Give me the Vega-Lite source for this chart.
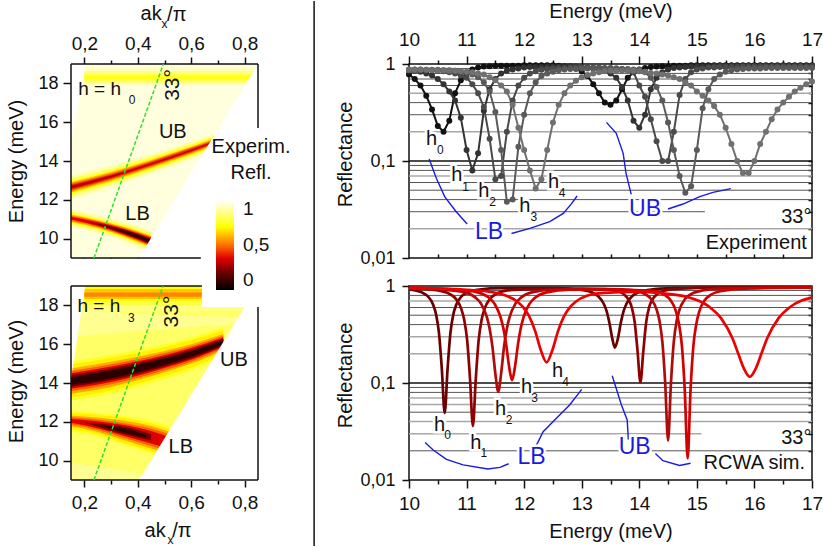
{"$schema":"https://vega.github.io/schema/vega-lite/v6.json","padding":0,"background":"white","bounds":"flush","columns":2,"spacing":{"row":28,"column":151},
"config":{"font":"Liberation Sans","view":{"stroke":null},"axis":{"grid":false,"domain":false,"zindex":1,"labelFontSize":18,"labelColor":"#111","labelOverlap":false,"labelFlush":false,"tickColor":"#111","tickWidth":1.5,"titleFontSize":20,"titleFontWeight":"normal","titleColor":"#111"}},
"datasets":{
"exp":[
{"e":10.0,"h0":0.78,"h1":0.85,"h2":0.87,"h3":0.88,"h4":0.87},{"e":10.1,"h0":0.70,"h1":0.85,"h2":0.87,"h3":0.88,"h4":0.87},{"e":10.2,"h0":0.60,"h1":0.83,"h2":0.87,"h3":0.88,"h4":0.87},{"e":10.3,"h0":0.47,"h1":0.80,"h2":0.86,"h3":0.87,"h4":0.87},{"e":10.4,"h0":0.34,"h1":0.76,"h2":0.86,"h3":0.87,"h4":0.86},{"e":10.5,"h0":0.23,"h1":0.70,"h2":0.85,"h3":0.87,"h4":0.86},{"e":10.6,"h0":0.20,"h1":0.62,"h2":0.84,"h3":0.86,"h4":0.86},{"e":10.7,"h0":0.26,"h1":0.52,"h2":0.82,"h3":0.86,"h4":0.85},{"e":10.8,"h0":0.50,"h1":0.42,"h2":0.80,"h3":0.85,"h4":0.85},{"e":10.9,"h0":0.68,"h1":0.28,"h2":0.76,"h3":0.84,"h4":0.84},
{"e":11.0,"h0":0.80,"h1":0.13,"h2":0.72,"h3":0.82,"h4":0.83},{"e":11.1,"h0":0.88,"h1":0.08,"h2":0.62,"h3":0.78,"h4":0.82},{"e":11.2,"h0":0.92,"h1":0.12,"h2":0.50,"h3":0.73,"h4":0.80},{"e":11.3,"h0":0.94,"h1":0.33,"h2":0.36,"h3":0.65,"h4":0.78},{"e":11.4,"h0":0.95,"h1":0.55,"h2":0.17,"h3":0.52,"h4":0.73},{"e":11.5,"h0":0.96,"h1":0.70,"h2":0.065,"h3":0.32,"h4":0.68},{"e":11.6,"h0":0.96,"h1":0.80,"h2":0.07,"h3":0.13,"h4":0.60},{"e":11.7,"h0":0.96,"h1":0.85,"h2":0.20,"h3":0.038,"h4":0.52},{"e":11.8,"h0":0.96,"h1":0.88,"h2":0.42,"h3":0.04,"h4":0.38},{"e":11.9,"h0":0.96,"h1":0.90,"h2":0.60,"h3":0.14,"h4":0.22},
{"e":12.0,"h0":0.97,"h1":0.92,"h2":0.72,"h3":0.30,"h4":0.13},{"e":12.1,"h0":0.97,"h1":0.93,"h2":0.80,"h3":0.50,"h4":0.08},{"e":12.2,"h0":0.97,"h1":0.93,"h2":0.84,"h3":0.65,"h4":0.052},{"e":12.3,"h0":0.97,"h1":0.93,"h2":0.87,"h3":0.75,"h4":0.065},{"e":12.4,"h0":0.97,"h1":0.94,"h2":0.89,"h3":0.80,"h4":0.13},{"e":12.5,"h0":0.97,"h1":0.94,"h2":0.90,"h3":0.83,"h4":0.25},{"e":12.6,"h0":0.96,"h1":0.94,"h2":0.91,"h3":0.86,"h4":0.38},{"e":12.7,"h0":0.95,"h1":0.94,"h2":0.91,"h3":0.88,"h4":0.50},{"e":12.8,"h0":0.94,"h1":0.94,"h2":0.92,"h3":0.89,"h4":0.60},{"e":12.9,"h0":0.90,"h1":0.94,"h2":0.92,"h3":0.89,"h4":0.67},
{"e":13.0,"h0":0.84,"h1":0.93,"h2":0.92,"h3":0.90,"h4":0.73},{"e":13.1,"h0":0.75,"h1":0.92,"h2":0.92,"h3":0.90,"h4":0.77},{"e":13.2,"h0":0.62,"h1":0.90,"h2":0.92,"h3":0.90,"h4":0.80},{"e":13.3,"h0":0.50,"h1":0.88,"h2":0.92,"h3":0.90,"h4":0.82},{"e":13.4,"h0":0.40,"h1":0.85,"h2":0.91,"h3":0.90,"h4":0.84},{"e":13.5,"h0":0.38,"h1":0.80,"h2":0.91,"h3":0.90,"h4":0.85},{"e":13.6,"h0":0.42,"h1":0.72,"h2":0.90,"h3":0.90,"h4":0.85},{"e":13.7,"h0":0.55,"h1":0.58,"h2":0.89,"h3":0.89,"h4":0.85},{"e":13.8,"h0":0.72,"h1":0.42,"h2":0.87,"h3":0.89,"h4":0.85},{"e":13.9,"h0":0.82,"h1":0.26,"h2":0.82,"h3":0.88,"h4":0.85},
{"e":14.0,"h0":0.88,"h1":0.22,"h2":0.60,"h3":0.87,"h4":0.84},{"e":14.1,"h0":0.91,"h1":0.30,"h2":0.46,"h3":0.82,"h4":0.83},{"e":14.2,"h0":0.93,"h1":0.55,"h2":0.27,"h3":0.72,"h4":0.81},{"e":14.3,"h0":0.94,"h1":0.72,"h2":0.16,"h3":0.58,"h4":0.80},{"e":14.4,"h0":0.95,"h1":0.82,"h2":0.10,"h3":0.42,"h4":0.78},{"e":14.5,"h0":0.95,"h1":0.88,"h2":0.10,"h3":0.25,"h4":0.76},{"e":14.6,"h0":0.96,"h1":0.91,"h2":0.20,"h3":0.13,"h4":0.73},{"e":14.7,"h0":0.96,"h1":0.92,"h2":0.48,"h3":0.07,"h4":0.70},{"e":14.8,"h0":0.96,"h1":0.93,"h2":0.70,"h3":0.047,"h4":0.65},{"e":14.9,"h0":0.97,"h1":0.94,"h2":0.82,"h3":0.055,"h4":0.60},
{"e":15.0,"h0":0.97,"h1":0.95,"h2":0.88,"h3":0.13,"h4":0.52},{"e":15.1,"h0":0.97,"h1":0.95,"h2":0.90,"h3":0.35,"h4":0.47},{"e":15.2,"h0":0.97,"h1":0.95,"h2":0.92,"h3":0.55,"h4":0.42},{"e":15.3,"h0":0.97,"h1":0.96,"h2":0.92,"h3":0.70,"h4":0.37},{"e":15.4,"h0":0.97,"h1":0.96,"h2":0.93,"h3":0.78,"h4":0.30},{"e":15.5,"h0":0.97,"h1":0.96,"h2":0.93,"h3":0.83,"h4":0.22},{"e":15.6,"h0":0.97,"h1":0.96,"h2":0.93,"h3":0.86,"h4":0.15},{"e":15.7,"h0":0.97,"h1":0.96,"h2":0.93,"h3":0.88,"h4":0.10},{"e":15.8,"h0":0.97,"h1":0.96,"h2":0.94,"h3":0.89,"h4":0.075},{"e":15.9,"h0":0.97,"h1":0.96,"h2":0.94,"h3":0.90,"h4":0.075},
{"e":16.0,"h0":0.97,"h1":0.96,"h2":0.94,"h3":0.90,"h4":0.10},{"e":16.1,"h0":0.97,"h1":0.96,"h2":0.94,"h3":0.90,"h4":0.15},{"e":16.2,"h0":0.97,"h1":0.96,"h2":0.94,"h3":0.91,"h4":0.20},{"e":16.3,"h0":0.97,"h1":0.96,"h2":0.94,"h3":0.91,"h4":0.27},{"e":16.4,"h0":0.97,"h1":0.96,"h2":0.94,"h3":0.91,"h4":0.34},{"e":16.5,"h0":0.97,"h1":0.96,"h2":0.94,"h3":0.91,"h4":0.40},{"e":16.6,"h0":0.97,"h1":0.96,"h2":0.94,"h3":0.91,"h4":0.46},{"e":16.7,"h0":0.97,"h1":0.96,"h2":0.94,"h3":0.91,"h4":0.52},{"e":16.8,"h0":0.97,"h1":0.96,"h2":0.94,"h3":0.91,"h4":0.57},{"e":16.9,"h0":0.97,"h1":0.96,"h2":0.94,"h3":0.91,"h4":0.62},{"e":17.0,"h0":0.97,"h1":0.96,"h2":0.94,"h3":0.91,"h4":0.66}],
"sim":[
{"h":"h0","e":10,"r":0.92},{"h":"h0","e":10.22,"r":0.86},{"h":"h0","e":10.32,"r":0.79},{"h":"h0","e":10.42,"r":0.64},{"h":"h0","e":10.47,"r":0.51},{"h":"h0","e":10.52,"r":0.33},{"h":"h0","e":10.57,"r":0.14},{"h":"h0","e":10.62,"r":0.049},{"h":"h0","e":10.67,"r":0.14},{"h":"h0","e":10.72,"r":0.33},{"h":"h0","e":10.77,"r":0.51},{"h":"h0","e":10.82,"r":0.64},{"h":"h0","e":10.92,"r":0.79},{"h":"h0","e":11.02,"r":0.86},{"h":"h0","e":11.22,"r":0.92},{"h":"h0","e":11.6,"r":0.95},{"h":"h0","e":12.58,"r":0.95},{"h":"h0","e":12.98,"r":0.915},{"h":"h0","e":13.18,"r":0.857},{"h":"h0","e":13.28,"r":0.79},{"h":"h0","e":13.38,"r":0.66},{"h":"h0","e":13.43,"r":0.556},{"h":"h0","e":13.48,"r":0.42},{"h":"h0","e":13.53,"r":0.29},{"h":"h0","e":13.575,"r":0.232},{"h":"h0","e":13.63,"r":0.29},{"h":"h0","e":13.68,"r":0.42},{"h":"h0","e":13.73,"r":0.556},{"h":"h0","e":13.78,"r":0.66},{"h":"h0","e":13.88,"r":0.79},{"h":"h0","e":13.98,"r":0.857},{"h":"h0","e":14.18,"r":0.915},{"h":"h0","e":14.6,"r":0.95},{"h":"h0","e":15.5,"r":0.965},{"h":"h0","e":17,"r":0.97},
{"h":"h1","e":10,"r":0.95},{"h":"h1","e":10.11,"r":0.944},{"h":"h1","e":10.51,"r":0.9},{"h":"h1","e":10.71,"r":0.826},{"h":"h1","e":10.81,"r":0.742},{"h":"h1","e":10.91,"r":0.577},{"h":"h1","e":10.96,"r":0.445},{"h":"h1","e":11.01,"r":0.276},{"h":"h1","e":11.06,"r":0.11},{"h":"h1","e":11.11,"r":0.036},{"h":"h1","e":11.16,"r":0.11},{"h":"h1","e":11.21,"r":0.276},{"h":"h1","e":11.26,"r":0.445},{"h":"h1","e":11.31,"r":0.577},{"h":"h1","e":11.41,"r":0.742},{"h":"h1","e":11.51,"r":0.826},{"h":"h1","e":11.71,"r":0.9},{"h":"h1","e":12.11,"r":0.93},{"h":"h1","e":13.02,"r":0.94},{"h":"h1","e":13.42,"r":0.93},{"h":"h1","e":13.62,"r":0.888},{"h":"h1","e":13.72,"r":0.832},{"h":"h1","e":13.82,"r":0.712},{"h":"h1","e":13.87,"r":0.6},{"h":"h1","e":13.92,"r":0.424},{"h":"h1","e":13.97,"r":0.213},{"h":"h1","e":14.02,"r":0.102},{"h":"h1","e":14.07,"r":0.213},{"h":"h1","e":14.12,"r":0.424},{"h":"h1","e":14.17,"r":0.6},{"h":"h1","e":14.22,"r":0.712},{"h":"h1","e":14.32,"r":0.832},{"h":"h1","e":14.42,"r":0.888},{"h":"h1","e":14.62,"r":0.93},{"h":"h1","e":15.02,"r":0.955},{"h":"h1","e":16,"r":0.965},{"h":"h1","e":17,"r":0.97},
{"h":"h2","e":10,"r":0.95},{"h":"h2","e":10.55,"r":0.92},{"h":"h2","e":10.95,"r":0.864},{"h":"h2","e":11.15,"r":0.763},{"h":"h2","e":11.25,"r":0.66},{"h":"h2","e":11.35,"r":0.483},{"h":"h2","e":11.4,"r":0.364},{"h":"h2","e":11.45,"r":0.234},{"h":"h2","e":11.5,"r":0.125},{"h":"h2","e":11.55,"r":0.0815},{"h":"h2","e":11.6,"r":0.125},{"h":"h2","e":11.65,"r":0.234},{"h":"h2","e":11.7,"r":0.364},{"h":"h2","e":11.75,"r":0.483},{"h":"h2","e":11.85,"r":0.66},{"h":"h2","e":11.95,"r":0.763},{"h":"h2","e":12.15,"r":0.864},{"h":"h2","e":12.55,"r":0.92},{"h":"h2","e":13.5,"r":0.93},{"h":"h2","e":13.9,"r":0.9},{"h":"h2","e":14.1,"r":0.825},{"h":"h2","e":14.2,"r":0.74},{"h":"h2","e":14.3,"r":0.573},{"h":"h2","e":14.35,"r":0.44},{"h":"h2","e":14.4,"r":0.268},{"h":"h2","e":14.45,"r":0.1},{"h":"h2","e":14.5,"r":0.0255},{"h":"h2","e":14.55,"r":0.1},{"h":"h2","e":14.6,"r":0.268},{"h":"h2","e":14.65,"r":0.44},{"h":"h2","e":14.7,"r":0.573},{"h":"h2","e":14.8,"r":0.74},{"h":"h2","e":14.9,"r":0.825},{"h":"h2","e":15.1,"r":0.9},{"h":"h2","e":15.5,"r":0.944},{"h":"h2","e":17,"r":0.97},
{"h":"h3","e":10,"r":0.96},{"h":"h3","e":10.79,"r":0.92},{"h":"h3","e":11.19,"r":0.86},{"h":"h3","e":11.39,"r":0.755},{"h":"h3","e":11.49,"r":0.65},{"h":"h3","e":11.59,"r":0.478},{"h":"h3","e":11.64,"r":0.364},{"h":"h3","e":11.69,"r":0.243},{"h":"h3","e":11.74,"r":0.146},{"h":"h3","e":11.79,"r":0.107},{"h":"h3","e":11.84,"r":0.146},{"h":"h3","e":11.89,"r":0.243},{"h":"h3","e":11.94,"r":0.364},{"h":"h3","e":11.99,"r":0.478},{"h":"h3","e":12.09,"r":0.65},{"h":"h3","e":12.19,"r":0.755},{"h":"h3","e":12.39,"r":0.86},{"h":"h3","e":12.79,"r":0.915},{"h":"h3","e":13.4,"r":0.92},{"h":"h3","e":13.84,"r":0.91},{"h":"h3","e":14.24,"r":0.89},{"h":"h3","e":14.44,"r":0.808},{"h":"h3","e":14.54,"r":0.718},{"h":"h3","e":14.64,"r":0.542},{"h":"h3","e":14.69,"r":0.405},{"h":"h3","e":14.74,"r":0.243},{"h":"h3","e":14.79,"r":0.084},{"h":"h3","e":14.84,"r":0.0167},{"h":"h3","e":14.89,"r":0.084},{"h":"h3","e":14.94,"r":0.243},{"h":"h3","e":14.99,"r":0.405},{"h":"h3","e":15.04,"r":0.542},{"h":"h3","e":15.14,"r":0.718},{"h":"h3","e":15.24,"r":0.808},{"h":"h3","e":15.44,"r":0.89},{"h":"h3","e":15.84,"r":0.94},{"h":"h3","e":17,"r":0.965},
{"h":"h4","e":10,"r":0.95},{"h":"h4","e":10.89,"r":0.923},{"h":"h4","e":11.39,"r":0.873},{"h":"h4","e":11.69,"r":0.793},{"h":"h4","e":11.89,"r":0.685},{"h":"h4","e":11.99,"r":0.598},{"h":"h4","e":12.09,"r":0.483},{"h":"h4","e":12.19,"r":0.345},{"h":"h4","e":12.29,"r":0.218},{"h":"h4","e":12.39,"r":0.163},{"h":"h4","e":12.49,"r":0.218},{"h":"h4","e":12.59,"r":0.345},{"h":"h4","e":12.69,"r":0.483},{"h":"h4","e":12.79,"r":0.598},{"h":"h4","e":12.89,"r":0.685},{"h":"h4","e":13.09,"r":0.793},{"h":"h4","e":13.39,"r":0.85},{"h":"h4","e":13.9,"r":0.87},{"h":"h4","e":14.42,"r":0.84},{"h":"h4","e":14.82,"r":0.774},{"h":"h4","e":15.02,"r":0.707},{"h":"h4","e":15.22,"r":0.608},{"h":"h4","e":15.42,"r":0.466},{"h":"h4","e":15.62,"r":0.287},{"h":"h4","e":15.72,"r":0.2},{"h":"h4","e":15.82,"r":0.14},{"h":"h4","e":15.92,"r":0.116},{"h":"h4","e":16.02,"r":0.14},{"h":"h4","e":16.12,"r":0.2},{"h":"h4","e":16.22,"r":0.287},{"h":"h4","e":16.42,"r":0.466},{"h":"h4","e":16.62,"r":0.608},{"h":"h4","e":16.82,"r":0.707},{"h":"h4","e":17,"r":0.76}],
"heatA":[
{"id":"bg","v":0.96,"k":0.15,"y":9,"y2":19},{"id":"bg","v":0.96,"k":0.85,"y":9,"y2":19},
{"id":"s1","v":0.93,"k":0.2,"y":17.9,"y2":18.85},{"id":"s1","v":0.93,"k":0.85,"y":17.9,"y2":18.85},
{"id":"s2","v":0.86,"k":0.2,"y":18.0,"y2":18.65},{"id":"s2","v":0.86,"k":0.85,"y":18.0,"y2":18.65},
{"id":"s3","v":0.79,"k":0.2,"y":18.1,"y2":18.5},{"id":"s3","v":0.79,"k":0.85,"y":18.1,"y2":18.5},
{"id":"s4","v":0.73,"k":0.2,"y":18.2,"y2":18.4},{"id":"s4","v":0.73,"k":0.85,"y":18.2,"y2":18.4},
{"id":"u1","v":0.9,"k":0.15,"y":12.05,"y2":13.25},{"id":"u1","v":0.9,"k":0.3,"y":12.65,"y2":13.75},{"id":"u1","v":0.9,"k":0.45,"y":13.35,"y2":14.35},{"id":"u1","v":0.9,"k":0.6,"y":14.1,"y2":15},{"id":"u1","v":0.9,"k":0.7,"y":14.63,"y2":15.47},
{"id":"u2","v":0.8,"k":0.15,"y":12.2,"y2":13.1},{"id":"u2","v":0.8,"k":0.3,"y":12.8,"y2":13.6},{"id":"u2","v":0.8,"k":0.45,"y":13.48,"y2":14.22},{"id":"u2","v":0.8,"k":0.6,"y":14.22,"y2":14.88},{"id":"u2","v":0.8,"k":0.7,"y":14.75,"y2":15.35},
{"id":"u3","v":0.7,"k":0.15,"y":12.31,"y2":12.99},{"id":"u3","v":0.7,"k":0.3,"y":12.9,"y2":13.5},{"id":"u3","v":0.7,"k":0.45,"y":13.57,"y2":14.13},{"id":"u3","v":0.7,"k":0.6,"y":14.3,"y2":14.8},{"id":"u3","v":0.7,"k":0.7,"y":14.83,"y2":15.27},
{"id":"u4","v":0.6,"k":0.15,"y":12.39,"y2":12.91},{"id":"u4","v":0.6,"k":0.3,"y":12.97,"y2":13.43},{"id":"u4","v":0.6,"k":0.45,"y":13.65,"y2":14.05},{"id":"u4","v":0.6,"k":0.6,"y":14.36,"y2":14.74},{"id":"u4","v":0.6,"k":0.7,"y":14.88,"y2":15.22},
{"id":"u5","v":0.5,"k":0.15,"y":12.45,"y2":12.85},{"id":"u5","v":0.5,"k":0.3,"y":13.03,"y2":13.37},{"id":"u5","v":0.5,"k":0.45,"y":13.7,"y2":14},{"id":"u5","v":0.5,"k":0.6,"y":14.41,"y2":14.69},{"id":"u5","v":0.5,"k":0.7,"y":14.93,"y2":15.17},
{"id":"u6","v":0.4,"k":0.15,"y":12.52,"y2":12.78},{"id":"u6","v":0.4,"k":0.3,"y":13.09,"y2":13.31},{"id":"u6","v":0.4,"k":0.45,"y":13.75,"y2":13.95},{"id":"u6","v":0.4,"k":0.6,"y":14.46,"y2":14.64},{"id":"u6","v":0.4,"k":0.7,"y":14.98,"y2":15.12},
{"id":"u7","v":0.3,"k":0.15,"y":12.58,"y2":12.72},{"id":"u7","v":0.3,"k":0.3,"y":13.15,"y2":13.25},{"id":"u7","v":0.3,"k":0.45,"y":13.82,"y2":13.88},{"id":"u7","v":0.3,"k":0.6,"y":14.52,"y2":14.58},{"id":"u7","v":0.3,"k":0.7,"y":15.03,"y2":15.07},
{"id":"l1","v":0.9,"k":0.15,"y":10.6,"y2":11.5},{"id":"l1","v":0.9,"k":0.25,"y":10.3,"y2":11.2},{"id":"l1","v":0.9,"k":0.35,"y":9.85,"y2":10.85},{"id":"l1","v":0.9,"k":0.45,"y":9.3,"y2":10.4},
{"id":"l2","v":0.8,"k":0.15,"y":10.72,"y2":11.38},{"id":"l2","v":0.8,"k":0.25,"y":10.42,"y2":11.08},{"id":"l2","v":0.8,"k":0.35,"y":9.97,"y2":10.73},{"id":"l2","v":0.8,"k":0.45,"y":9.43,"y2":10.27},
{"id":"l3","v":0.7,"k":0.15,"y":10.8,"y2":11.3},{"id":"l3","v":0.7,"k":0.25,"y":10.5,"y2":11},{"id":"l3","v":0.7,"k":0.35,"y":10.05,"y2":10.65},{"id":"l3","v":0.7,"k":0.45,"y":9.51,"y2":10.19},
{"id":"l4","v":0.6,"k":0.15,"y":10.86,"y2":11.24},{"id":"l4","v":0.6,"k":0.25,"y":10.55,"y2":10.95},{"id":"l4","v":0.6,"k":0.35,"y":10.1,"y2":10.6},{"id":"l4","v":0.6,"k":0.45,"y":9.57,"y2":10.13},
{"id":"l5","v":0.5,"k":0.15,"y":10.91,"y2":11.19},{"id":"l5","v":0.5,"k":0.25,"y":10.59,"y2":10.91},{"id":"l5","v":0.5,"k":0.35,"y":10.14,"y2":10.56},{"id":"l5","v":0.5,"k":0.45,"y":9.61,"y2":10.09},
{"id":"l6","v":0.35,"k":0.15,"y":10.98,"y2":11.12},{"id":"l6","v":0.35,"k":0.25,"y":10.65,"y2":10.85},{"id":"l6","v":0.35,"k":0.35,"y":10.2,"y2":10.5},{"id":"l6","v":0.35,"k":0.45,"y":9.66,"y2":10.04},
{"id":"l7","v":0.2,"k":0.22,"y":10.84,"y2":10.84},{"id":"l7","v":0.2,"k":0.35,"y":10.25,"y2":10.45},{"id":"l7","v":0.2,"k":0.45,"y":9.72,"y2":9.98},
{"id":"l8","v":0.08,"k":0.3,"y":10.55,"y2":10.55},{"id":"l8","v":0.08,"k":0.38,"y":10.16,"y2":10.28},{"id":"l8","v":0.08,"k":0.45,"y":9.77,"y2":9.93}],
"heatB":[
{"id":"bg","v":0.82,"k":0.15,"y":9,"y2":19},{"id":"bg","v":0.82,"k":0.85,"y":9,"y2":19},
{"id":"b2","v":0.87,"k":0.15,"y":9,"y2":9.9},{"id":"b2","v":0.87,"k":0.43,"y":9,"y2":9.3},
{"id":"b3","v":0.87,"k":0.15,"y":16.4,"y2":17.8},{"id":"b3","v":0.87,"k":0.5,"y":16.8,"y2":17.5},{"id":"b3","v":0.87,"k":0.85,"y":17.1,"y2":17.4},
{"id":"s1","v":0.85,"k":0.2,"y":17.7,"y2":19},{"id":"s1","v":0.85,"k":0.85,"y":17.7,"y2":19},
{"id":"s2","v":0.78,"k":0.2,"y":18,"y2":19},{"id":"s2","v":0.78,"k":0.85,"y":18,"y2":19},
{"id":"s3","v":0.7,"k":0.2,"y":18.2,"y2":19},{"id":"s3","v":0.7,"k":0.85,"y":18.2,"y2":19},
{"id":"s4","v":0.62,"k":0.2,"y":18.33,"y2":18.85},{"id":"s4","v":0.62,"k":0.85,"y":18.33,"y2":18.85},
{"id":"s5","v":0.53,"k":0.2,"y":18.44,"y2":18.66},{"id":"s5","v":0.53,"k":0.85,"y":18.44,"y2":18.66},
{"id":"u1","v":0.75,"k":0.15,"y":13.1,"y2":15.1},{"id":"u1","v":0.75,"k":0.3,"y":13.45,"y2":15.45},{"id":"u1","v":0.75,"k":0.4,"y":13.8,"y2":15.7},{"id":"u1","v":0.75,"k":0.5,"y":14.2,"y2":16},{"id":"u1","v":0.75,"k":0.6,"y":14.65,"y2":16.35},{"id":"u1","v":0.75,"k":0.72,"y":15.35,"y2":16.85},
{"id":"u2","v":0.68,"k":0.15,"y":13.25,"y2":14.95},{"id":"u2","v":0.68,"k":0.3,"y":13.6,"y2":15.3},{"id":"u2","v":0.68,"k":0.4,"y":13.95,"y2":15.55},{"id":"u2","v":0.68,"k":0.5,"y":14.35,"y2":15.85},{"id":"u2","v":0.68,"k":0.6,"y":14.8,"y2":16.2},{"id":"u2","v":0.68,"k":0.72,"y":15.48,"y2":16.72},
{"id":"u3","v":0.58,"k":0.15,"y":13.45,"y2":14.75},{"id":"u3","v":0.58,"k":0.3,"y":13.8,"y2":15.1},{"id":"u3","v":0.58,"k":0.4,"y":14.15,"y2":15.35},{"id":"u3","v":0.58,"k":0.5,"y":14.55,"y2":15.65},{"id":"u3","v":0.58,"k":0.6,"y":15,"y2":16},{"id":"u3","v":0.58,"k":0.72,"y":15.68,"y2":16.52},
{"id":"u4","v":0.48,"k":0.15,"y":13.58,"y2":14.62},{"id":"u4","v":0.48,"k":0.3,"y":13.93,"y2":14.97},{"id":"u4","v":0.48,"k":0.4,"y":14.27,"y2":15.23},{"id":"u4","v":0.48,"k":0.5,"y":14.66,"y2":15.54},{"id":"u4","v":0.48,"k":0.6,"y":15.1,"y2":15.9},{"id":"u4","v":0.48,"k":0.72,"y":15.76,"y2":16.44},
{"id":"u5","v":0.35,"k":0.15,"y":13.7,"y2":14.5},{"id":"u5","v":0.35,"k":0.3,"y":14.05,"y2":14.85},{"id":"u5","v":0.35,"k":0.4,"y":14.38,"y2":15.12},{"id":"u5","v":0.35,"k":0.5,"y":14.77,"y2":15.43},{"id":"u5","v":0.35,"k":0.6,"y":15.2,"y2":15.8},{"id":"u5","v":0.35,"k":0.72,"y":15.85,"y2":16.35},
{"id":"u6","v":0.2,"k":0.15,"y":13.8,"y2":14.4},{"id":"u6","v":0.2,"k":0.3,"y":14.15,"y2":14.75},{"id":"u6","v":0.2,"k":0.4,"y":14.47,"y2":15.03},{"id":"u6","v":0.2,"k":0.5,"y":14.85,"y2":15.35},{"id":"u6","v":0.2,"k":0.6,"y":15.28,"y2":15.72},{"id":"u6","v":0.2,"k":0.72,"y":15.92,"y2":16.28},
{"id":"u7","v":0.08,"k":0.15,"y":13.9,"y2":14.3},{"id":"u7","v":0.08,"k":0.3,"y":14.25,"y2":14.65},{"id":"u7","v":0.08,"k":0.4,"y":14.57,"y2":14.93},{"id":"u7","v":0.08,"k":0.5,"y":14.94,"y2":15.26},{"id":"u7","v":0.08,"k":0.6,"y":15.36,"y2":15.64},{"id":"u7","v":0.08,"k":0.72,"y":16,"y2":16.2},
{"id":"l1","v":0.75,"k":0.15,"y":11.5,"y2":12.6},{"id":"l1","v":0.75,"k":0.25,"y":11.25,"y2":12.45},{"id":"l1","v":0.75,"k":0.35,"y":10.8,"y2":12.3},{"id":"l1","v":0.75,"k":0.45,"y":10.35,"y2":12.05},{"id":"l1","v":0.75,"k":0.52,"y":10.05,"y2":11.75},
{"id":"l2","v":0.68,"k":0.15,"y":11.63,"y2":12.47},{"id":"l2","v":0.68,"k":0.25,"y":11.35,"y2":12.35},{"id":"l2","v":0.68,"k":0.35,"y":10.9,"y2":12.2},{"id":"l2","v":0.68,"k":0.45,"y":10.48,"y2":11.92},{"id":"l2","v":0.68,"k":0.52,"y":10.18,"y2":11.62},
{"id":"l3","v":0.58,"k":0.15,"y":11.77,"y2":12.33},{"id":"l3","v":0.58,"k":0.25,"y":11.48,"y2":12.22},{"id":"l3","v":0.58,"k":0.35,"y":11.05,"y2":12.05},{"id":"l3","v":0.58,"k":0.45,"y":10.62,"y2":11.78},{"id":"l3","v":0.58,"k":0.52,"y":10.32,"y2":11.48},
{"id":"l4","v":0.48,"k":0.15,"y":11.87,"y2":12.23},{"id":"l4","v":0.48,"k":0.25,"y":11.58,"y2":12.12},{"id":"l4","v":0.48,"k":0.35,"y":11.17,"y2":11.93},{"id":"l4","v":0.48,"k":0.45,"y":10.75,"y2":11.65},{"id":"l4","v":0.48,"k":0.52,"y":10.45,"y2":11.35},
{"id":"l5","v":0.35,"k":0.15,"y":11.95,"y2":12.15},{"id":"l5","v":0.35,"k":0.25,"y":11.67,"y2":12.03},{"id":"l5","v":0.35,"k":0.35,"y":11.27,"y2":11.83},{"id":"l5","v":0.35,"k":0.45,"y":10.88,"y2":11.52},{"id":"l5","v":0.35,"k":0.52,"y":10.6,"y2":11.2},
{"id":"l6","v":0.2,"k":0.2,"y":11.97,"y2":11.97},{"id":"l6","v":0.2,"k":0.35,"y":11.36,"y2":11.74},{"id":"l6","v":0.2,"k":0.45,"y":11.04,"y2":11.36},
{"id":"l7","v":0.08,"k":0.26,"y":11.82,"y2":11.82},{"id":"l7","v":0.08,"k":0.35,"y":11.44,"y2":11.66},{"id":"l7","v":0.08,"k":0.43,"y":11.21,"y2":11.33}],
"expH":[{"t":"h","e":10.39,"r":0.167},{"t":"h","e":10.83,"r":0.0717},{"t":"h","e":11.3,"r":0.0494},{"t":"h","e":12.01,"r":0.0344},{"t":"h","e":12.51,"r":0.0612}],
"expSub":[{"t":"0","e":10.545,"r":0.13},{"t":"1","e":10.985,"r":0.0544},{"t":"2","e":11.45,"r":0.0381},{"t":"3","e":12.17,"r":0.0267},{"t":"4","e":12.66,"r":0.0472}],
"expBlueT":[{"t":"LB","e":11.39,"r":0.0187},{"t":"UB","e":14.1,"r":0.032}],
"expBlue":[{"id":"a","e":10.35,"r":0.105},{"id":"a","e":10.475,"r":0.0663},{"id":"a","e":10.62,"r":0.0429},{"id":"a","e":10.82,"r":0.03},{"id":"a","e":11.01,"r":0.0224},{"id":"b","e":11.78,"r":0.0179},{"id":"b","e":12.1,"r":0.0202},{"id":"b","e":12.445,"r":0.0237},{"id":"b","e":12.68,"r":0.0288},{"id":"b","e":12.82,"r":0.0361},{"id":"b","e":12.92,"r":0.0436},{"id":"c","e":13.43,"r":0.25},{"id":"c","e":13.6,"r":0.193},{"id":"c","e":13.72,"r":0.12},{"id":"c","e":13.77,"r":0.0746},{"id":"c","e":13.86,"r":0.0453},{"id":"d","e":14.5,"r":0.032},{"id":"d","e":14.76,"r":0.036},{"id":"d","e":15.05,"r":0.0429},{"id":"d","e":15.28,"r":0.0475},{"id":"d","e":15.59,"r":0.0519}],
"simH":[{"t":"h","e":10.53,"r":0.0369},{"t":"h","e":11.16,"r":0.0243},{"t":"h","e":11.59,"r":0.0535},{"t":"h","e":12.04,"r":0.0902},{"t":"h","e":12.58,"r":0.134}],
"simSub":[{"t":"0","e":10.67,"r":0.0291},{"t":"1","e":11.3,"r":0.0191},{"t":"2","e":11.74,"r":0.0416},{"t":"3","e":12.18,"r":0.0706},{"t":"4","e":12.72,"r":0.103}],
"simBlueT":[{"t":"LB","e":12.13,"r":0.0174},{"t":"UB","e":13.92,"r":0.0221}],
"simBlue":[{"id":"a","e":10.28,"r":0.0243},{"id":"a","e":10.42,"r":0.0204},{"id":"a","e":10.65,"r":0.0163},{"id":"a","e":10.94,"r":0.0143},{"id":"a","e":11.37,"r":0.013},{"id":"a","e":11.58,"r":0.0135},{"id":"a","e":11.73,"r":0.0147},{"id":"b","e":12.21,"r":0.0226},{"id":"b","e":12.33,"r":0.0315},{"id":"b","e":12.56,"r":0.0432},{"id":"b","e":12.79,"r":0.0593},{"id":"b","e":13,"r":0.0861},{"id":"c","e":13.53,"r":0.119},{"id":"c","e":13.69,"r":0.0593},{"id":"c","e":13.79,"r":0.0416},{"id":"c","e":13.81,"r":0.0262},{"id":"d","e":14.28,"r":0.0188},{"id":"d","e":14.41,"r":0.0158},{"id":"d","e":14.7,"r":0.0141},{"id":"d","e":14.89,"r":0.0149}]
},
"concat":[
{"width":187,"height":194,"layer":[
{"data":{"name":"heatA"},"mark":{"type":"area","interpolate":"monotone"},"encoding":{
"x":{"field":"k","type":"quantitative","scale":{"domain":[0.15,0.85]},"axis":{"orient":"top","title":null,"values":[0.2,0.3,0.4,0.5,0.6,0.7,0.8],"labelExpr":"round(datum.value*10)%2==0?replace(format(datum.value,'.1f'),'.',','):''","labelFontSize":19,"tickSize":{"condition":{"test":"round(datum.value*10)%2==0","value":7},"value":4},"labelPadding":4}},
"y":{"field":"y","type":"quantitative","scale":{"domain":[9,19]},"axis":{"orient":"left","title":"Energy (meV)","titleX":-45,"values":[10,12,14,16,18],"tickSize":8,"labelPadding":5}},
"y2":{"field":"y2"},"color":{"field":"v","type":"quantitative","scale":{"domain":[0,0.2,0.35,0.5,0.7,1],"range":["#000000","#700000","#e00000","#ff7000","#ffff00","#ffffff"],"interpolate":"rgb"},"legend":null},"detail":{"field":"id"}}},
{"data":{"values":[{"id":"r","k":0.404,"y":9,"y2":8.95},{"id":"r","k":0.85,"y":19,"y2":8.95},{"id":"r","k":0.87,"y":19.05,"y2":8.95},{"id":"l","k":0.15,"y":15,"y2":19},{"id":"l","k":0.205,"y":19,"y2":19}]},"mark":{"type":"area","color":"white"},"encoding":{
"x":{"field":"k","type":"quantitative","scale":{"domain":[0.15,0.85]},"axis":{"orient":"bottom","title":null,"labels":false,"values":[0.2,0.3,0.4,0.5,0.6],"tickSize":-4}},
"y":{"field":"y","type":"quantitative","scale":{"domain":[9,19]},"axis":{"orient":"right","title":null,"labels":false,"values":[16,17,18],"tickSize":{"condition":{"test":"datum.value%2==0","value":-7},"value":-4}}},
"y2":{"field":"y2"},"detail":{"field":"id"}}},
{"data":{"values":[{"k":0.15,"k2":0.15,"y":9,"y2":19},{"k":0.15,"k2":0.85,"y":19,"y2":19},{"k":0.85,"k2":0.85,"y":15.7,"y2":19},{"k":0.15,"k2":0.636,"y":9,"y2":9},{"k":1.06,"k2":1.06,"y":22.25,"y2":-5.85}]},"mark":{"type":"rule","color":"#111","strokeWidth":1.5},"encoding":{"x":{"field":"k","type":"quantitative","scale":{"domain":[0.15,0.85]},"axis":null},"x2":{"field":"k2"},"y":{"field":"y","type":"quantitative","scale":{"domain":[9,19]},"axis":null},"y2":{"field":"y2"}}},
{"data":{"values":[{"k":0.236,"y":9},{"k":0.496,"y":19}]},"mark":{"type":"line","color":"#33dd33","strokeWidth":1.5,"strokeDash":[4,2]},"encoding":{"x":{"field":"k","type":"quantitative","scale":{"domain":[0.15,0.85]},"axis":null},"y":{"field":"y","type":"quantitative","scale":{"domain":[9,19]},"axis":null}}},
{"data":{"values":[{"t":"UB","k":0.531,"y":15.5},{"t":"LB","k":0.399,"y":11.29},{"t":"Experim.","k":0.824,"y":14.73},{"t":"Refl.","k":0.824,"y":13.4},{"t":"ak","k":0.45,"y":21.57},{"t":"/π","k":0.546,"y":21.52}]},"mark":{"type":"text","fontSize":20,"color":"#111"},"encoding":{"x":{"field":"k","type":"quantitative","scale":{"domain":[0.15,0.85]},"axis":null},"y":{"field":"y","type":"quantitative","scale":{"domain":[9,19]},"axis":null},"text":{"field":"t"}}},
{"data":{"values":[{"t":"h = h","k":0.177,"y":17.72}]},"mark":{"type":"text","fontSize":19,"align":"left","color":"#111"},"encoding":{"x":{"field":"k","type":"quantitative","scale":{"domain":[0.15,0.85]},"axis":null},"y":{"field":"y","type":"quantitative","scale":{"domain":[9,19]},"axis":null},"text":{"field":"t"}}},
{"data":{"values":[{"t":"0","k":0.379,"y":17.15},{"t":"x","k":0.5,"y":21.06}]},"mark":{"type":"text","fontSize":12,"color":"#111"},"encoding":{"x":{"field":"k","type":"quantitative","scale":{"domain":[0.15,0.85]},"axis":null},"y":{"field":"y","type":"quantitative","scale":{"domain":[9,19]},"axis":null},"text":{"field":"t"}}},
{"data":{"values":[{"t":"33°","k":0.531,"y":17.92}]},"mark":{"type":"text","fontSize":21,"angle":270,"color":"#111"},"encoding":{"x":{"field":"k","type":"quantitative","scale":{"domain":[0.15,0.85]},"axis":null},"y":{"field":"y","type":"quantitative","scale":{"domain":[9,19]},"axis":null},"text":{"field":"t"}}},
{"data":{"values":[{"k":-0.112,"y":19}]},"mark":{"type":"point","opacity":0,"size":1},"encoding":{"x":{"field":"k","type":"quantitative","scale":{"domain":[0.15,0.85]},"axis":null},"y":{"field":"y","type":"quantitative","scale":{"domain":[9,19]},"axis":null}}}
],"resolve":{"axis":{"x":"independent","y":"independent"}}},
{"width":403,"height":194,"view":{"stroke":"#111","strokeWidth":1.5},"layer":[
{"data":{"values":[{"r":0.9},{"r":0.8},{"r":0.7},{"r":0.6},{"r":0.4},{"r":0.3},{"r":0.09},{"r":0.08},{"r":0.06},{"r":0.05},{"r":0.04}]},"mark":{"type":"rule","color":"#555","strokeWidth":1},"encoding":{"y":{"field":"r","type":"quantitative","scale":{"type":"log","domain":[0.01,1]},"axis":null}}},
{"data":{"values":[{"r":0.5},{"r":0.2},{"r":0.07},{"r":0.02}]},"mark":{"type":"rule","color":"#a8a8a8","strokeWidth":1.5},"encoding":{"y":{"field":"r","type":"quantitative","scale":{"type":"log","domain":[0.01,1]},"axis":null}}},
{"data":{"values":[{"r":0.1}]},"mark":{"type":"rule","color":"#111","strokeWidth":1.5},"encoding":{"y":{"field":"r","type":"quantitative","scale":{"type":"log","domain":[0.01,1]},"axis":null}}},
{"data":{"values":[{"e":10,"e2":15.14,"r":0.03}]},"mark":{"type":"rule","color":"#555","strokeWidth":1},"encoding":{"x":{"field":"e","type":"quantitative","scale":{"domain":[10,17]},"axis":null},"x2":{"field":"e2"},"y":{"field":"r","type":"quantitative","scale":{"type":"log","domain":[0.01,1]},"axis":null}}},
{"data":{"name":"exp"},"transform":[{"fold":["h0","h1","h2","h3","h4"],"as":["h","r"]}],"mark":{"type":"line","strokeWidth":2},"encoding":{
"x":{"field":"e","type":"quantitative","scale":{"domain":[10,17]},"axis":{"orient":"top","title":"Energy (meV)","titlePadding":9,"values":[10,10.5,11,11.5,12,12.5,13,13.5,14,14.5,15,15.5,16,16.5,17],"labelExpr":"datum.value%1==0?format(datum.value,'d'):''","labelFontSize":19,"tickSize":{"condition":{"test":"datum.value%1==0","value":8},"value":4},"labelPadding":7}},
"y":{"field":"r","type":"quantitative","scale":{"type":"log","domain":[0.01,1]},"axis":{"orient":"left","title":"Reflectance","titleX":-54,"titleY":90,"values":[0.01,0.1,1],"labelExpr":"datum.value==1?'1':datum.value==0.1?'0,1':'0,01'","tickSize":7,"labelPadding":7}},
"color":{"field":"h","type":"nominal","scale":{"domain":["h0","h1","h2","h3","h4"],"range":["#111111","#333333","#4a4a4a","#5a5a5a","#707070"]},"legend":null}}},
{"data":{"name":"exp"},"transform":[{"fold":["h0","h1","h2","h3","h4"],"as":["h","r"]}],"mark":{"type":"point","filled":true,"size":36,"opacity":1},"encoding":{
"x":{"field":"e","type":"quantitative","scale":{"domain":[10,17]},"axis":{"orient":"bottom","title":null,"labels":false,"values":[10.5,11,11.5,12,12.5,13,13.5,14,14.5,15,15.5,16,16.5],"tickSize":-4}},
"y":{"field":"r","type":"quantitative","scale":{"type":"log","domain":[0.01,1]},"axis":{"orient":"right","title":null,"labels":false,"values":[0.02,0.03,0.04,0.05,0.06,0.07,0.08,0.09,0.1,0.2,0.3,0.4,0.5,0.6,0.7,0.8,0.9],"tickSize":-4}},
"color":{"field":"h","type":"nominal","scale":{"domain":["h0","h1","h2","h3","h4"],"range":["#111111","#333333","#4a4a4a","#5a5a5a","#707070"]},"legend":null},"order":{"field":"h"}}},
{"data":{"name":"expBlue"},"mark":{"type":"line","color":"#1a1ae0","strokeWidth":1.4},"encoding":{"x":{"field":"e","type":"quantitative","scale":{"domain":[10,17]},"axis":null},"y":{"field":"r","type":"quantitative","scale":{"type":"log","domain":[0.01,1]},"axis":null},"detail":{"field":"id"}}},
{"data":{"name":"expH"},"mark":{"type":"text","fontSize":20,"color":"white","stroke":"white","strokeWidth":5},"encoding":{"x":{"field":"e","type":"quantitative","scale":{"domain":[10,17]},"axis":null},"y":{"field":"r","type":"quantitative","scale":{"type":"log","domain":[0.01,1]},"axis":null},"text":{"field":"t"}}},
{"data":{"name":"expH"},"mark":{"type":"text","fontSize":20,"color":"#111"},"encoding":{"x":{"field":"e","type":"quantitative","scale":{"domain":[10,17]},"axis":null},"y":{"field":"r","type":"quantitative","scale":{"type":"log","domain":[0.01,1]},"axis":null},"text":{"field":"t"}}},
{"data":{"name":"expSub"},"mark":{"type":"text","fontSize":12,"color":"#111"},"encoding":{"x":{"field":"e","type":"quantitative","scale":{"domain":[10,17]},"axis":null},"y":{"field":"r","type":"quantitative","scale":{"type":"log","domain":[0.01,1]},"axis":null},"text":{"field":"t"}}},
{"data":{"name":"expBlueT"},"mark":{"type":"text","fontSize":23,"color":"white","stroke":"white","strokeWidth":5},"encoding":{"x":{"field":"e","type":"quantitative","scale":{"domain":[10,17]},"axis":null},"y":{"field":"r","type":"quantitative","scale":{"type":"log","domain":[0.01,1]},"axis":null},"text":{"field":"t"}}},
{"data":{"name":"expBlueT"},"mark":{"type":"text","fontSize":23,"color":"#1a1ae0"},"encoding":{"x":{"field":"e","type":"quantitative","scale":{"domain":[10,17]},"axis":null},"y":{"field":"r","type":"quantitative","scale":{"type":"log","domain":[0.01,1]},"axis":null},"text":{"field":"t"}}},
{"data":{"values":[{"t":"33°","e":16.99,"r":0.0267},{"t":"Experiment","e":16.91,"r":0.0144}]},"mark":{"type":"text","fontSize":20,"align":"right","color":"#111"},"encoding":{"x":{"field":"e","type":"quantitative","scale":{"domain":[10,17]},"axis":null},"y":{"field":"r","type":"quantitative","scale":{"type":"log","domain":[0.01,1]},"axis":null},"text":{"field":"t"}}}
],"resolve":{"axis":{"x":"independent","y":"independent"},"scale":{"color":"shared"}}},
{"width":187,"height":194,"layer":[
{"data":{"name":"heatB"},"mark":{"type":"area","interpolate":"monotone"},"encoding":{
"x":{"field":"k","type":"quantitative","scale":{"domain":[0.15,0.85]},"axis":{"orient":"bottom","title":null,"values":[0.2,0.3,0.4,0.5,0.6,0.7,0.8],"labelExpr":"round(datum.value*10)%2==0?replace(format(datum.value,'.1f'),'.',','):''","labelFontSize":19,"tickSize":{"condition":{"test":"round(datum.value*10)%2==0","value":7},"value":4},"labelPadding":6}},
"y":{"field":"y","type":"quantitative","scale":{"domain":[9,19]},"axis":{"orient":"left","title":"Energy (meV)","titleX":-45,"titleY":95,"values":[10,12,14,16,18],"tickSize":8,"labelPadding":5}},
"y2":{"field":"y2"},"color":{"field":"v","type":"quantitative","scale":{"domain":[0,0.2,0.35,0.5,0.7,1],"range":["#000000","#700000","#e00000","#ff7000","#ffff00","#ffffff"],"interpolate":"rgb"},"legend":{"orient":"none","legendX":145,"legendY":-86,"title":null,"type":"gradient","direction":"vertical","gradientLength":90,"gradientThickness":18,"values":[0,0.5,1],"labelExpr":"replace(format(datum.value,'.1~f'),'.',',')","labelFontSize":19,"labelColor":"#111","labelBaseline":"middle","labelOffset":9,"gradientStrokeColor":"#ccc","gradientStrokeWidth":0}},"detail":{"field":"id"}}},
{"data":{"values":[{"id":"r","k":0.405,"y":9,"y2":8.95},{"id":"r","k":0.8,"y":17.92,"y2":8.95},{"id":"r","k":0.85,"y":19,"y2":8.95},{"id":"r","k":0.87,"y":19.05,"y2":8.95},{"id":"l","k":0.15,"y":14.2,"y2":19},{"id":"l","k":0.203,"y":19,"y2":19}]},"mark":{"type":"area","color":"white"},"encoding":{
"x":{"field":"k","type":"quantitative","scale":{"domain":[0.15,0.85]},"axis":null},
"y":{"field":"y","type":"quantitative","scale":{"domain":[9,19]},"axis":{"orient":"right","title":null,"labels":false,"values":[10,11,12,13,14,15,16,17],"tickSize":{"condition":{"test":"datum.value%2==0","value":-7},"value":-4}}},
"y2":{"field":"y2"},"detail":{"field":"id"}}},
{"data":{"values":[{"k":0.64,"k2":0.88,"y":17.92,"y2":19.15}]},"mark":{"type":"rect","color":"white"},"encoding":{"x":{"field":"k","type":"quantitative","scale":{"domain":[0.15,0.85]},"axis":null},"x2":{"field":"k2"},"y":{"field":"y","type":"quantitative","scale":{"domain":[9,19]},"axis":null},"y2":{"field":"y2"}}},
{"data":{"values":[{"k":0.15,"k2":0.15,"y":9,"y2":19},{"k":0.15,"k2":0.64,"y":19,"y2":19},{"k":0.85,"k2":0.85,"y":9,"y2":17.92},{"k":0.15,"k2":0.85,"y":9,"y2":9}]},"mark":{"type":"rule","color":"#111","strokeWidth":1.5},"encoding":{"x":{"field":"k","type":"quantitative","scale":{"domain":[0.15,0.85]},"axis":null},"x2":{"field":"k2"},"y":{"field":"y","type":"quantitative","scale":{"domain":[9,19]},"axis":null},"y2":{"field":"y2"}}},
{"data":{"values":[{"k":0.236,"y":9},{"k":0.495,"y":19}]},"mark":{"type":"line","color":"#33dd33","strokeWidth":1.5,"strokeDash":[4,2]},"encoding":{"x":{"field":"k","type":"quantitative","scale":{"domain":[0.15,0.85]},"axis":null},"y":{"field":"y","type":"quantitative","scale":{"domain":[9,19]},"axis":null}}},
{"data":{"values":[{"t":"UB","k":0.76,"y":15.16},{"t":"LB","k":0.561,"y":10.69},{"t":"ak","k":0.465,"y":6.36},{"t":"/π","k":0.565,"y":6.36}]},"mark":{"type":"text","fontSize":20,"color":"#111"},"encoding":{"x":{"field":"k","type":"quantitative","scale":{"domain":[0.15,0.85]},"axis":null},"y":{"field":"y","type":"quantitative","scale":{"domain":[9,19]},"axis":null},"text":{"field":"t"}}},
{"data":{"values":[{"t":"h = h","k":0.174,"y":17.97}]},"mark":{"type":"text","fontSize":19,"align":"left","color":"#111"},"encoding":{"x":{"field":"k","type":"quantitative","scale":{"domain":[0.15,0.85]},"axis":null},"y":{"field":"y","type":"quantitative","scale":{"domain":[9,19]},"axis":null},"text":{"field":"t"}}},
{"data":{"values":[{"t":"3","k":0.376,"y":17.34},{"t":"x","k":0.522,"y":5.9}]},"mark":{"type":"text","fontSize":12,"color":"#111"},"encoding":{"x":{"field":"k","type":"quantitative","scale":{"domain":[0.15,0.85]},"axis":null},"y":{"field":"y","type":"quantitative","scale":{"domain":[9,19]},"axis":null},"text":{"field":"t"}}},
{"data":{"values":[{"t":"33°","k":0.527,"y":17.68}]},"mark":{"type":"text","fontSize":21,"angle":270,"color":"#111"},"encoding":{"x":{"field":"k","type":"quantitative","scale":{"domain":[0.15,0.85]},"axis":null},"y":{"field":"y","type":"quantitative","scale":{"domain":[9,19]},"axis":null},"text":{"field":"t"}}}
],"resolve":{"axis":{"x":"independent","y":"independent"}}},
{"width":403,"height":194,"view":{"stroke":"#111","strokeWidth":1.5},"layer":[
{"data":{"values":[{"r":0.9},{"r":0.8},{"r":0.6},{"r":0.5},{"r":0.4},{"r":0.09},{"r":0.08},{"r":0.05},{"r":0.02}]},"mark":{"type":"rule","color":"#555","strokeWidth":1},"encoding":{"y":{"field":"r","type":"quantitative","scale":{"type":"log","domain":[0.01,1]},"axis":null}}},
{"data":{"values":[{"r":0.7},{"r":0.3},{"r":0.2},{"r":0.07},{"r":0.06},{"r":0.04}]},"mark":{"type":"rule","color":"#a8a8a8","strokeWidth":1.5},"encoding":{"y":{"field":"r","type":"quantitative","scale":{"type":"log","domain":[0.01,1]},"axis":null}}},
{"data":{"values":[{"r":0.1}]},"mark":{"type":"rule","color":"#111","strokeWidth":1.5},"encoding":{"y":{"field":"r","type":"quantitative","scale":{"type":"log","domain":[0.01,1]},"axis":null}}},
{"data":{"values":[{"e":10,"e2":15.08,"r":0.03}]},"mark":{"type":"rule","color":"#a8a8a8","strokeWidth":1.5},"encoding":{"x":{"field":"e","type":"quantitative","scale":{"domain":[10,17]},"axis":null},"x2":{"field":"e2"},"y":{"field":"r","type":"quantitative","scale":{"type":"log","domain":[0.01,1]},"axis":null}}},
{"data":{"name":"sim"},"mark":{"type":"line","strokeWidth":2.7,"interpolate":"monotone"},"encoding":{
"x":{"field":"e","type":"quantitative","scale":{"domain":[10,17]},"axis":{"orient":"bottom","title":"Energy (meV)","titlePadding":8,"values":[10,10.5,11,11.5,12,12.5,13,13.5,14,14.5,15,15.5,16,16.5,17],"labelExpr":"datum.value%1==0?format(datum.value,'d'):''","labelFontSize":19,"tickSize":{"condition":{"test":"datum.value%1==0","value":8},"value":4},"labelPadding":6}},
"y":{"field":"r","type":"quantitative","scale":{"type":"log","domain":[0.01,1]},"axis":{"orient":"left","title":"Reflectance","titleX":-54,"titleY":89,"values":[0.01,0.1,1],"labelExpr":"datum.value==1?'1':datum.value==0.1?'0,1':'0,01'","tickSize":7,"labelPadding":7}},
"color":{"field":"h","type":"nominal","scale":{"domain":["h0","h1","h2","h3","h4"],"range":["#6b0000","#8f0000","#b00a0a","#d40000","#ee0000"]},"legend":null}}},
{"data":{"values":[{"e":10,"r":0.02}]},"mark":{"type":"point","opacity":0},"encoding":{
"x":{"field":"e","type":"quantitative","scale":{"domain":[10,17]},"axis":null},
"y":{"field":"r","type":"quantitative","scale":{"type":"log","domain":[0.01,1]},"axis":{"orient":"right","title":null,"labels":false,"values":[0.02,0.03,0.04,0.05,0.06,0.07,0.08,0.09,0.1,0.2,0.3,0.4,0.5,0.6,0.7,0.8,0.9],"tickSize":-4}}}},
{"data":{"name":"simBlue"},"mark":{"type":"line","color":"#1a1ae0","strokeWidth":1.4},"encoding":{"x":{"field":"e","type":"quantitative","scale":{"domain":[10,17]},"axis":null},"y":{"field":"r","type":"quantitative","scale":{"type":"log","domain":[0.01,1]},"axis":null},"detail":{"field":"id"}}},
{"data":{"name":"simH"},"mark":{"type":"text","fontSize":20,"color":"white","stroke":"white","strokeWidth":5},"encoding":{"x":{"field":"e","type":"quantitative","scale":{"domain":[10,17]},"axis":null},"y":{"field":"r","type":"quantitative","scale":{"type":"log","domain":[0.01,1]},"axis":null},"text":{"field":"t"}}},
{"data":{"name":"simH"},"mark":{"type":"text","fontSize":20,"color":"#111"},"encoding":{"x":{"field":"e","type":"quantitative","scale":{"domain":[10,17]},"axis":null},"y":{"field":"r","type":"quantitative","scale":{"type":"log","domain":[0.01,1]},"axis":null},"text":{"field":"t"}}},
{"data":{"name":"simSub"},"mark":{"type":"text","fontSize":12,"color":"#111"},"encoding":{"x":{"field":"e","type":"quantitative","scale":{"domain":[10,17]},"axis":null},"y":{"field":"r","type":"quantitative","scale":{"type":"log","domain":[0.01,1]},"axis":null},"text":{"field":"t"}}},
{"data":{"name":"simBlueT"},"mark":{"type":"text","fontSize":23,"color":"white","stroke":"white","strokeWidth":5},"encoding":{"x":{"field":"e","type":"quantitative","scale":{"domain":[10,17]},"axis":null},"y":{"field":"r","type":"quantitative","scale":{"type":"log","domain":[0.01,1]},"axis":null},"text":{"field":"t"}}},
{"data":{"name":"simBlueT"},"mark":{"type":"text","fontSize":23,"color":"#1a1ae0"},"encoding":{"x":{"field":"e","type":"quantitative","scale":{"domain":[10,17]},"axis":null},"y":{"field":"r","type":"quantitative","scale":{"type":"log","domain":[0.01,1]},"axis":null},"text":{"field":"t"}}},
{"data":{"values":[{"t":"33°","e":16.99,"r":0.0269},{"t":"RCWA sim.","e":16.88,"r":0.01485}]},"mark":{"type":"text","fontSize":20,"align":"right","color":"#111"},"encoding":{"x":{"field":"e","type":"quantitative","scale":{"domain":[10,17]},"axis":null},"y":{"field":"r","type":"quantitative","scale":{"type":"log","domain":[0.01,1]},"axis":null},"text":{"field":"t"}}}
],"resolve":{"axis":{"x":"independent","y":"independent"}}}
]}
